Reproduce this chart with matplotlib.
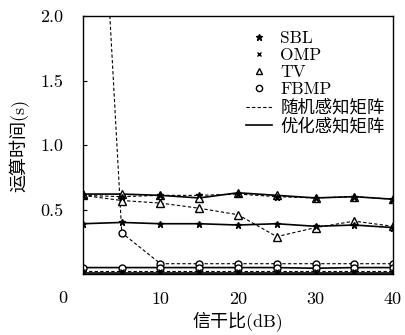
import matplotlib
matplotlib.use("Agg")
import matplotlib.pyplot as plt
from matplotlib.lines import Line2D

plt.rcParams['font.family'] = ['cmr10', 'Noto Sans CJK SC', 'DejaVu Sans']
plt.rcParams['axes.formatter.use_mathtext'] = True

snr = [0, 5, 10, 15, 20, 25, 30, 35, 40]

# running time (s), random vs optimised sensing matrix
sbl_rand = [0.61, 0.60, 0.61, 0.61, 0.62, 0.60, 0.59, 0.60, 0.58]
sbl_opt = [0.39, 0.40, 0.39, 0.39, 0.38, 0.39, 0.37, 0.38, 0.36]
omp_rand = [0.02, 0.02, 0.02, 0.02, 0.02, 0.02, 0.02, 0.02, 0.02]
omp_opt = [0.01, 0.01, 0.01, 0.01, 0.01, 0.01, 0.01, 0.01, 0.01]
tv_rand = [0.61, 0.57, 0.55, 0.51, 0.46, 0.29, 0.36, 0.41, 0.37]
tv_opt = [0.62, 0.62, 0.61, 0.59, 0.63, 0.61, 0.59, 0.60, 0.58]
fbmp_rand = [5.8, 0.32, 0.08, 0.08, 0.08, 0.08, 0.08, 0.08, 0.08]
fbmp_opt = [0.05, 0.05, 0.05, 0.05, 0.05, 0.05, 0.045, 0.05, 0.05]

yticks = [0.5, 1.0, 1.5, 2.0]
xticks = [10, 20, 30, 40]

fig = plt.figure(figsize=(4.06, 3.35), dpi=100)
ax = fig.add_axes([0.2044, 0.182, 0.7636, 0.770])

dash = dict(ls=(0, (3, 2)), lw=0.8, color='black')
solid = dict(ls='-', lw=1.2, color='black')
star = dict(marker='*', ms=5, mfc='black', mec='black')
cross = dict(marker='x', ms=3.5, mew=1.0, mec='black')
tri = dict(marker='^', ms=6, mfc='white', mec='black', mew=1.0)
circ = dict(marker='o', ms=5, mfc='white', mec='black', mew=1.0)

ax.plot(snr, fbmp_rand, **dash, **circ)
ax.plot(snr, fbmp_opt, **solid, **circ)
ax.plot(snr, omp_rand, **dash, **cross)
ax.plot(snr, omp_opt, **solid, **cross)
ax.plot(snr, tv_rand, **dash, **tri)
ax.plot(snr, tv_opt, **solid, **tri)
ax.plot(snr, sbl_rand, **dash, **star)
ax.plot(snr, sbl_opt, **solid, **star)

ax.set_xlim(0, 40)
ax.set_ylim(0, 2.0)
ax.set_xticks(xticks)
ax.set_xticklabels([str(t) for t in xticks])
ax.set_yticks(yticks)
ax.set_yticklabels(['%.1f' % t for t in yticks])
ax.tick_params(axis='x', length=0, pad=13, labelsize=13)
ax.tick_params(axis='y', direction='in', length=3, pad=14, labelsize=13)
# shared origin label
ax.text(-2.6, -0.13, '0', fontsize=13, ha='center', va='top', clip_on=False)

for s in ax.spines.values():
    s.set_linewidth(1.0)

ax.set_xlabel('信干比(dB)', fontsize=13, labelpad=3)
ax.set_ylabel('运算时间(s)', fontsize=13, labelpad=8)

handles = [
    Line2D([], [], ls='none', marker='*', ms=5, color='black'),
    Line2D([], [], ls='none', marker='x', ms=3.5, mew=1.0, color='black'),
    Line2D([], [], ls='none', marker='^', ms=5, mfc='white', mec='black'),
    Line2D([], [], ls='none', marker='o', ms=4.5, mfc='white', mec='black'),
    Line2D([], [], ls=(0, (3, 2)), lw=0.8, color='black'),
    Line2D([], [], ls='-', lw=1.2, color='black'),
]
labels = ['SBL', 'OMP', 'TV', 'FBMP', '随机感知矩阵', '优化感知矩阵']
ax.legend(handles, labels, loc='upper right', bbox_to_anchor=(1.012, 0.99),
          frameon=False, fontsize=12.5, handlelength=1.5, handletextpad=0.5,
          labelspacing=0.1, borderpad=0.2)

fig.savefig('out.png', dpi=100)
